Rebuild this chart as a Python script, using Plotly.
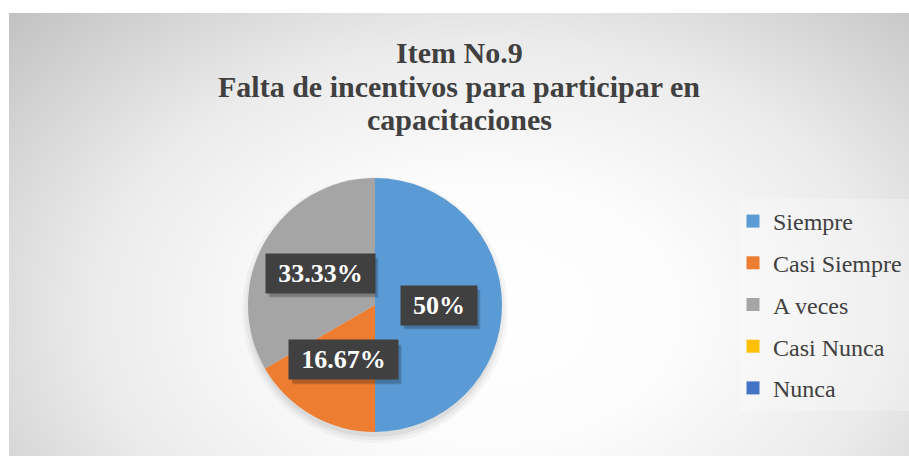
import math
import base64
import plotly.graph_objects as go

# ---------------- data ----------------
categories = ["Siempre", "Casi Siempre", "A veces", "Casi Nunca", "Nunca"]
values = [50, 16.67, 33.33, 0, 0]
colors = ["#5B9BD5", "#ED7D31", "#A5A5A5", "#FFC000", "#4472C4"]
title_lines = ["Item No.9", "Falta de incentivos para participar en", "capacitaciones"]

# ---------------- layout constants ----------------
W, H = 909, 456
SERIF = "'Times New Roman', 'Liberation Serif', 'DejaVu Serif', serif"
TXT = "#404040"

# pie domain in pixels (left, right, top, bottom)
pie_l, pie_r, pie_t, pie_b = 248, 502, 178, 432
dom_x = [pie_l / W, pie_r / W]
dom_y = [1 - pie_b / H, 1 - pie_t / H]

# background radial gradient (chart area 9..909 x 13..456)
bg_x0, bg_y0 = 9, 13
bg_w, bg_h = W - bg_x0, H - bg_y0
svg = f'''<svg xmlns="http://www.w3.org/2000/svg" width="{bg_w}" height="{bg_h}" viewBox="0 0 {bg_w} {bg_h}" preserveAspectRatio="none">
<defs><radialGradient id="g" gradientUnits="userSpaceOnUse" cx="0" cy="0" r="1"
 gradientTransform="translate(480 300) scale(640 440)">
<stop offset="0" stop-color="#ffffff"/>
<stop offset="0.3" stop-color="#fcfcfc"/>
<stop offset="0.62" stop-color="#ebebeb"/>
<stop offset="1" stop-color="#c3c3c3"/>
</radialGradient></defs>
<rect x="0" y="0" width="{bg_w}" height="{bg_h}" fill="url(#g)"/>
</svg>'''
svg_uri = "data:image/svg+xml;base64," + base64.b64encode(svg.encode()).decode()

fig = go.Figure()

fig.add_trace(go.Pie(
    labels=categories,
    values=values,
    marker=dict(colors=colors, line=dict(width=0)),
    sort=False,
    direction="clockwise",
    rotation=0,
    textinfo="none",
    hoverinfo="label+percent",
    showlegend=False,
    domain=dict(x=dom_x, y=dom_y),
))

# legend entries (built from the same categories/colors)
for cat, col in zip(categories, colors):
    fig.add_trace(go.Scatter(
        x=[None], y=[None], mode="markers", name=cat, legendgroup=cat,
        marker=dict(symbol="square", size=13, color=col),
        hoverinfo="skip",
    ))

shapes = []
# soft shadow under pie (mostly below)
for i, a in enumerate([0.05, 0.04, 0.03]):
    grow = 1 + 3 * i
    shapes.append(dict(
        type="circle", xref="paper", yref="paper", layer="below",
        x0=(pie_l - grow + 1) / W, x1=(pie_r + grow - 1) / W,
        y0=1 - (pie_b + grow + 4) / H, y1=1 - (pie_t - grow + 6) / H,
        fillcolor=f"rgba(0,0,0,{a})", line=dict(width=0),
    ))
# legend panel
shapes.append(dict(
    type="rect", xref="paper", yref="paper", layer="below",
    x0=740 / W, x1=1, y0=1 - 411 / H, y1=1 - 199 / H,
    fillcolor="rgba(255,255,255,0.25)", line=dict(width=0),
))

# data labels placed at half radius on each slice's mid-angle
R_px = (pie_r - pie_l) / 2
cx = (pie_l + pie_r) / 2 / W
cy = 1 - (pie_t + pie_b) / 2 / H
total = sum(values)
cum = 0
annotations = []
BOX_H = 39
for cat, v in zip(categories, values):
    if v <= 0:
        cum += v
        continue
    mid = (cum + v / 2) / total * 2 * math.pi
    cum += v
    x = cx + 0.5 * R_px * math.sin(mid) / W
    y = cy + 0.5 * R_px * math.cos(mid) / H
    txt = f"{v:g}%"
    bw = 11 * len(txt) + 37
    # drop shadow of the label box
    for k, a in enumerate([0.16, 0.10]):
        dx, dy = 3 + k, 4 + k
        shapes.append(dict(
            type="rect", xref="paper", yref="paper", layer="above",
            x0=x + (dx - bw / 2 - 3) / W, x1=x + (dx + bw / 2 + 3) / W,
            y0=y - (dy + BOX_H / 2) / H, y1=y - (dy - BOX_H / 2) / H,
            fillcolor=f"rgba(0,0,0,{a})", line=dict(width=0),
        ))
    annotations.append(dict(
        x=x, y=y, xref="paper", yref="paper", text=f"<b>{txt}</b>", showarrow=False,
        xanchor="center", yanchor="middle",
        font=dict(family=SERIF, size=26, color="white"),
        bgcolor="#404040", width=bw, height=BOX_H - 6, borderpad=3,
    ))

# title lines
title_centers = [53, 87, 120]
for line, yc in zip(title_lines, title_centers):
    annotations.append(dict(
        x=459 / W, y=1 - yc / H, xref="paper", yref="paper", showarrow=False,
        text=f"<b>{line}</b>", xanchor="center", yanchor="middle",
        font=dict(family=SERIF, size=30, color=TXT),
    ))

fig.update_layout(
    width=W, height=H,
    margin=dict(l=0, r=0, t=0, b=0),
    paper_bgcolor="white",
    plot_bgcolor="rgba(0,0,0,0)",
    font=dict(family=SERIF, color=TXT),
    xaxis=dict(visible=False),
    yaxis=dict(visible=False),
    images=[dict(
        source=svg_uri, xref="paper", yref="paper",
        x=bg_x0 / W, y=1 - bg_y0 / H, sizex=bg_w / W, sizey=bg_h / H,
        xanchor="left", yanchor="top", sizing="stretch", layer="below",
    )],
    shapes=shapes,
    annotations=annotations,
    showlegend=True,
    legend=dict(
        x=733 / W, y=1 - 199 / H, xanchor="left", yanchor="top",
        bgcolor="rgba(0,0,0,0)", borderwidth=0,
        font=dict(family=SERIF, size=24, color=TXT),
        tracegroupgap=7.5, itemwidth=30, itemclick=False, itemdoubleclick=False,
    ),
)

fig.write_html(
    "out.html",
    config={"displayModeBar": False},
    post_script="document.body.style.margin='0';",
)
